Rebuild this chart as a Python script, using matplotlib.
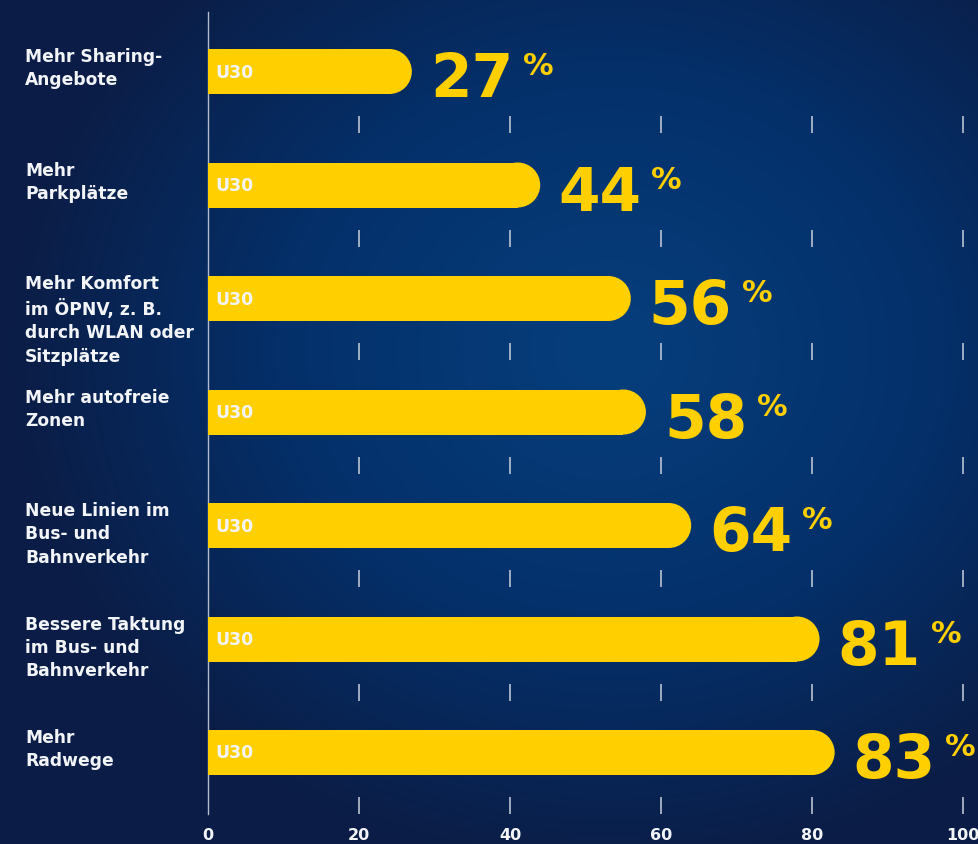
import numpy as np
import matplotlib
matplotlib.use("Agg")
import matplotlib.pyplot as plt
from matplotlib.colors import LinearSegmentedColormap
from matplotlib.patches import Ellipse

# survey answers, share of under-30 respondents
categories = [
    "Mehr Sharing-\nAngebote",
    "Mehr\nParkplätze",
    "Mehr Komfort\nim ÖPNV, z. B.\ndurch WLAN oder\nSitzplätze",
    "Mehr autofreie\nZonen",
    "Neue Linien im\nBus- und\nBahnverkehr",
    "Bessere Taktung\nim Bus- und\nBahnverkehr",
    "Mehr\nRadwege",
]
values = [27, 44, 56, 58, 64, 81, 83]
group_label = "U30"
grid_ticks = [0, 20, 40, 60, 80, 100]

YELLOW = "#ffcf00"
WHITE = "#f2f4f8"
TICK_GREY = "#c9d0dc"

W, H = 979, 844
fig = plt.figure(figsize=(W / 100, H / 100), dpi=100)

# radial blue backdrop
bg = fig.add_axes([0, 0, 1, 1])
bg.set_axis_off()
yy, xx = np.mgrid[0:H, 0:W]
d = np.sqrt(((xx - 610) / 600.0) ** 2 + ((yy - 350) / 520.0) ** 2)
d = np.clip(d, 0, 1) ** 1.1
cmap = LinearSegmentedColormap.from_list("bgblue", ["#063e7c", "#04306a", "#0b1d46"])
bg.imshow(d, cmap=cmap, vmin=0, vmax=1, aspect="auto", interpolation="bilinear")

ax = fig.add_axes([0, 0, 1, 1], facecolor="none")
ax.set_axis_off()

# pixel layout -> data limits (0 at x=208px, 100 at x=963px; rows every 113.5px)
px_x = 7.55
px_y = 113.5
row0 = 71.5
ax.set_xlim(-208 / px_x, (W - 208) / px_x)
ax.set_ylim((H - row0) / px_y, -row0 / px_y)

ypos = np.arange(len(values))
bar_h = 45 / px_y
cap_r = 22.5 / px_x  # round end radius in x units

# bars: flat body plus a half-round end
ax.barh(ypos, np.array(values) - cap_r, height=bar_h, left=0, color=YELLOW,
        lw=0, zorder=3)
for y, v in zip(ypos, values):
    ax.add_patch(Ellipse((v - cap_r, y), 2 * cap_r, bar_h, facecolor=YELLOW,
                         lw=0, zorder=3))

# zero line
ax.plot([0, 0], [(12 - row0) / px_y, (814 - row0) / px_y],
        color="#b4bccb", lw=1.0, zorder=2)

# little grid ticks under each row
tick_off = 53 / px_y
tick_len = 17 / px_y
for y in ypos:
    ax.vlines(grid_ticks[1:], y + tick_off - tick_len / 2, y + tick_off + tick_len / 2,
              color=TICK_GREY, lw=1.1, zorder=2)

# axis numbers along the bottom
for t in grid_ticks:
    ax.text(t, (840 - row0) / px_y, str(t), ha="center", va="baseline",
            color=WHITE, fontsize=11.5, fontweight="bold", family="DejaVu Sans")

for y, v, cat in zip(ypos, values, categories):
    # category text, top aligned with the bar
    ax.text(-183 / px_x, y - bar_h / 2 - 1 / px_y, cat, ha="left", va="top",
            color=WHITE, fontsize=12.3, fontweight="bold", linespacing=1.38,
            family="DejaVu Sans")
    # group tag inside the bar
    ax.text(7 / px_x, y + 1 / px_y, group_label, ha="left", va="center",
            color=WHITE, fontsize=12.5, fontweight="bold", zorder=4)
    # big value + small percent sign
    num = ax.text(v + 18 / px_x, y + 25.5 / px_y, str(v), ha="left", va="baseline",
                  color=YELLOW, fontsize=43, fontweight="bold", zorder=4)
    ax.annotate("%", xy=(1, 1), xycoords=num, xytext=(7, -1),
                textcoords="offset points", ha="left", va="top",
                color=YELLOW, fontsize=22, fontweight="bold", zorder=4)

fig.savefig("out.png", dpi=100)
